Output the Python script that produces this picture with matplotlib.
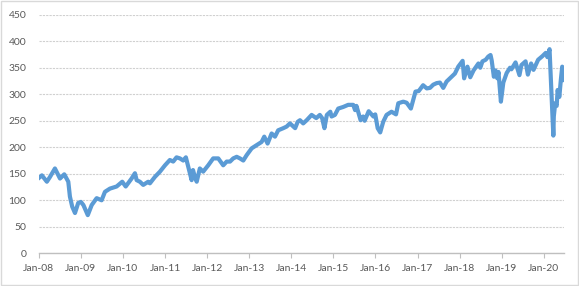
import matplotlib
matplotlib.use("Agg")
import matplotlib.pyplot as plt
import matplotlib.dates as mdates
from matplotlib.patches import Rectangle
import pandas as pd

# values
dates = [
    "2008-01-02", "2008-01-29", "2008-03-12", "2008-04-08", "2008-05-21", "2008-07-04",
    "2008-08-10", "2008-09-14", "2008-09-28", "2008-10-18", "2008-11-11", "2008-12-09",
    "2009-01-01", "2009-01-23", "2009-03-02", "2009-04-05", "2009-05-18", "2009-06-30",
    "2009-07-29", "2009-09-10", "2009-11-07", "2009-12-26", "2010-01-25", "2010-03-17",
    "2010-04-15", "2010-04-30", "2010-05-28", "2010-06-26", "2010-08-08", "2010-08-23",
    "2010-10-05", "2010-11-18", "2011-01-01", "2011-02-12", "2011-03-13", "2011-04-11",
    "2011-05-10", "2011-06-08", "2011-07-01", "2011-08-05", "2011-08-20", "2011-09-01",
    "2011-09-17", "2011-10-03", "2011-10-30", "2011-11-28", "2012-01-11", "2012-02-23",
    "2012-04-07", "2012-05-20", "2012-06-19", "2012-07-18", "2012-08-15", "2012-09-14",
    "2012-10-12", "2012-11-10", "2012-12-09", "2013-01-22", "2013-03-06", "2013-04-18",
    "2013-05-11", "2013-06-09", "2013-07-14", "2013-08-12", "2013-09-09", "2013-10-23",
    "2013-11-21", "2013-12-20", "2014-02-03", "2014-02-25", "2014-03-17", "2014-04-14",
    "2014-05-14", "2014-06-26", "2014-08-05", "2014-09-05", "2014-09-25", "2014-10-15",
    "2014-11-05", "2014-12-05", "2014-12-16", "2015-01-14", "2015-02-12", "2015-03-27",
    "2015-05-09", "2015-06-22", "2015-07-08", "2015-07-20", "2015-08-25", "2015-09-16",
    "2015-09-29", "2015-11-03", "2015-12-14", "2015-12-30", "2016-01-20", "2016-02-11",
    "2016-03-08", "2016-04-06", "2016-05-19", "2016-06-27", "2016-07-17", "2016-08-29",
    "2016-09-27", "2016-11-03", "2016-12-13", "2017-01-10", "2017-02-17", "2017-03-21",
    "2017-04-18", "2017-05-16", "2017-06-15", "2017-07-13", "2017-08-11", "2017-09-09",
    "2017-10-23", "2017-11-20", "2017-12-19", "2018-01-26", "2018-02-08", "2018-03-09",
    "2018-04-02", "2018-05-01", "2018-06-12", "2018-06-28", "2018-07-17", "2018-08-14",
    "2018-09-05", "2018-09-25", "2018-10-05", "2018-10-24", "2018-11-07", "2018-11-23",
    "2018-12-03", "2018-12-24", "2019-01-14", "2019-02-12", "2019-03-13", "2019-03-25",
    "2019-04-30", "2019-06-03", "2019-06-20", "2019-07-26", "2019-08-15", "2019-09-12",
    "2019-10-03", "2019-11-12", "2019-12-20", "2020-01-17", "2020-01-31", "2020-02-19",
    "2020-02-28", "2020-03-12", "2020-03-23", "2020-03-27", "2020-04-08", "2020-04-21",
    "2020-04-29", "2020-05-14", "2020-05-27", "2020-06-08", "2020-06-26",
]
values = [
    142, 147, 135, 144, 160, 141,
    149, 135, 107, 88, 76, 95,
    97, 91, 72, 91, 104, 100,
    116, 122, 126, 135, 126, 141,
    151, 138, 135, 129, 135, 132,
    144, 154, 166, 176, 173, 181,
    179, 175, 181, 151, 138, 157,
    144, 135, 160, 154, 166, 179,
    179, 166, 173, 173, 179, 182,
    179, 175, 185, 198, 204, 210,
    220, 207, 226, 220, 232, 236,
    239, 245, 236, 248, 251, 245,
    251, 261, 255, 261, 255, 236,
    261, 267, 258, 261, 273, 276,
    280, 280, 270, 278, 251, 258,
    250, 268, 258, 262, 236, 228,
    248, 261, 267, 262, 283, 286,
    284, 273, 305, 306, 317, 311,
    312, 318, 321, 322, 312, 324,
    333, 339, 352, 363, 330, 352,
    332, 345, 358, 350, 362, 365,
    371, 374, 364, 333, 345, 330,
    342, 286, 322, 340, 350, 347,
    360, 336, 355, 362, 337, 358,
    346, 365, 372, 378, 370, 385,
    339, 276, 222, 258, 283, 278,
    308, 295, 327, 352, 327,
]

x = pd.to_datetime(dates)

plt.rcParams['font.family'] = ['Lato', 'DejaVu Sans']

fig = plt.figure(figsize=(5.79, 2.86), dpi=100)
ax = fig.add_axes([0.0668, 0.1143, 0.9078, 0.8343])

ax.plot(x, values, color="#5B9BD5", lw=3.0, solid_joinstyle="round")

ax.set_ylim(0, 450)
ax.set_yticks(range(0, 451, 50))
ax.set_xlim(pd.Timestamp("2008-01-01"), x[-1])
ax.xaxis.set_major_locator(mdates.YearLocator())
ax.xaxis.set_major_formatter(mdates.DateFormatter("%b-%y"))

ax.grid(axis="y", color="#d0d0d0", lw=0.8, ls=(0, (2, 1)))
ax.set_axisbelow(True)
for s in ["top", "right", "left"]:
    ax.spines[s].set_visible(False)
ax.spines["bottom"].set_color("#bfbfbf")
ax.spines["bottom"].set_linewidth(1.0)

ax.tick_params(axis="y", length=0, pad=9, labelsize=7.5, labelcolor="#595959")
ax.tick_params(axis="x", length=3.5, width=0.8, color="#bfbfbf", pad=4,
               labelsize=7.5, labelcolor="#595959")

# chart area border
fig.patches.append(Rectangle((0.002, 0.003), 0.996, 0.994, transform=fig.transFigure,
                             fill=False, edgecolor="#d9d9d9", lw=1))

fig.savefig("out.png", dpi=100)
